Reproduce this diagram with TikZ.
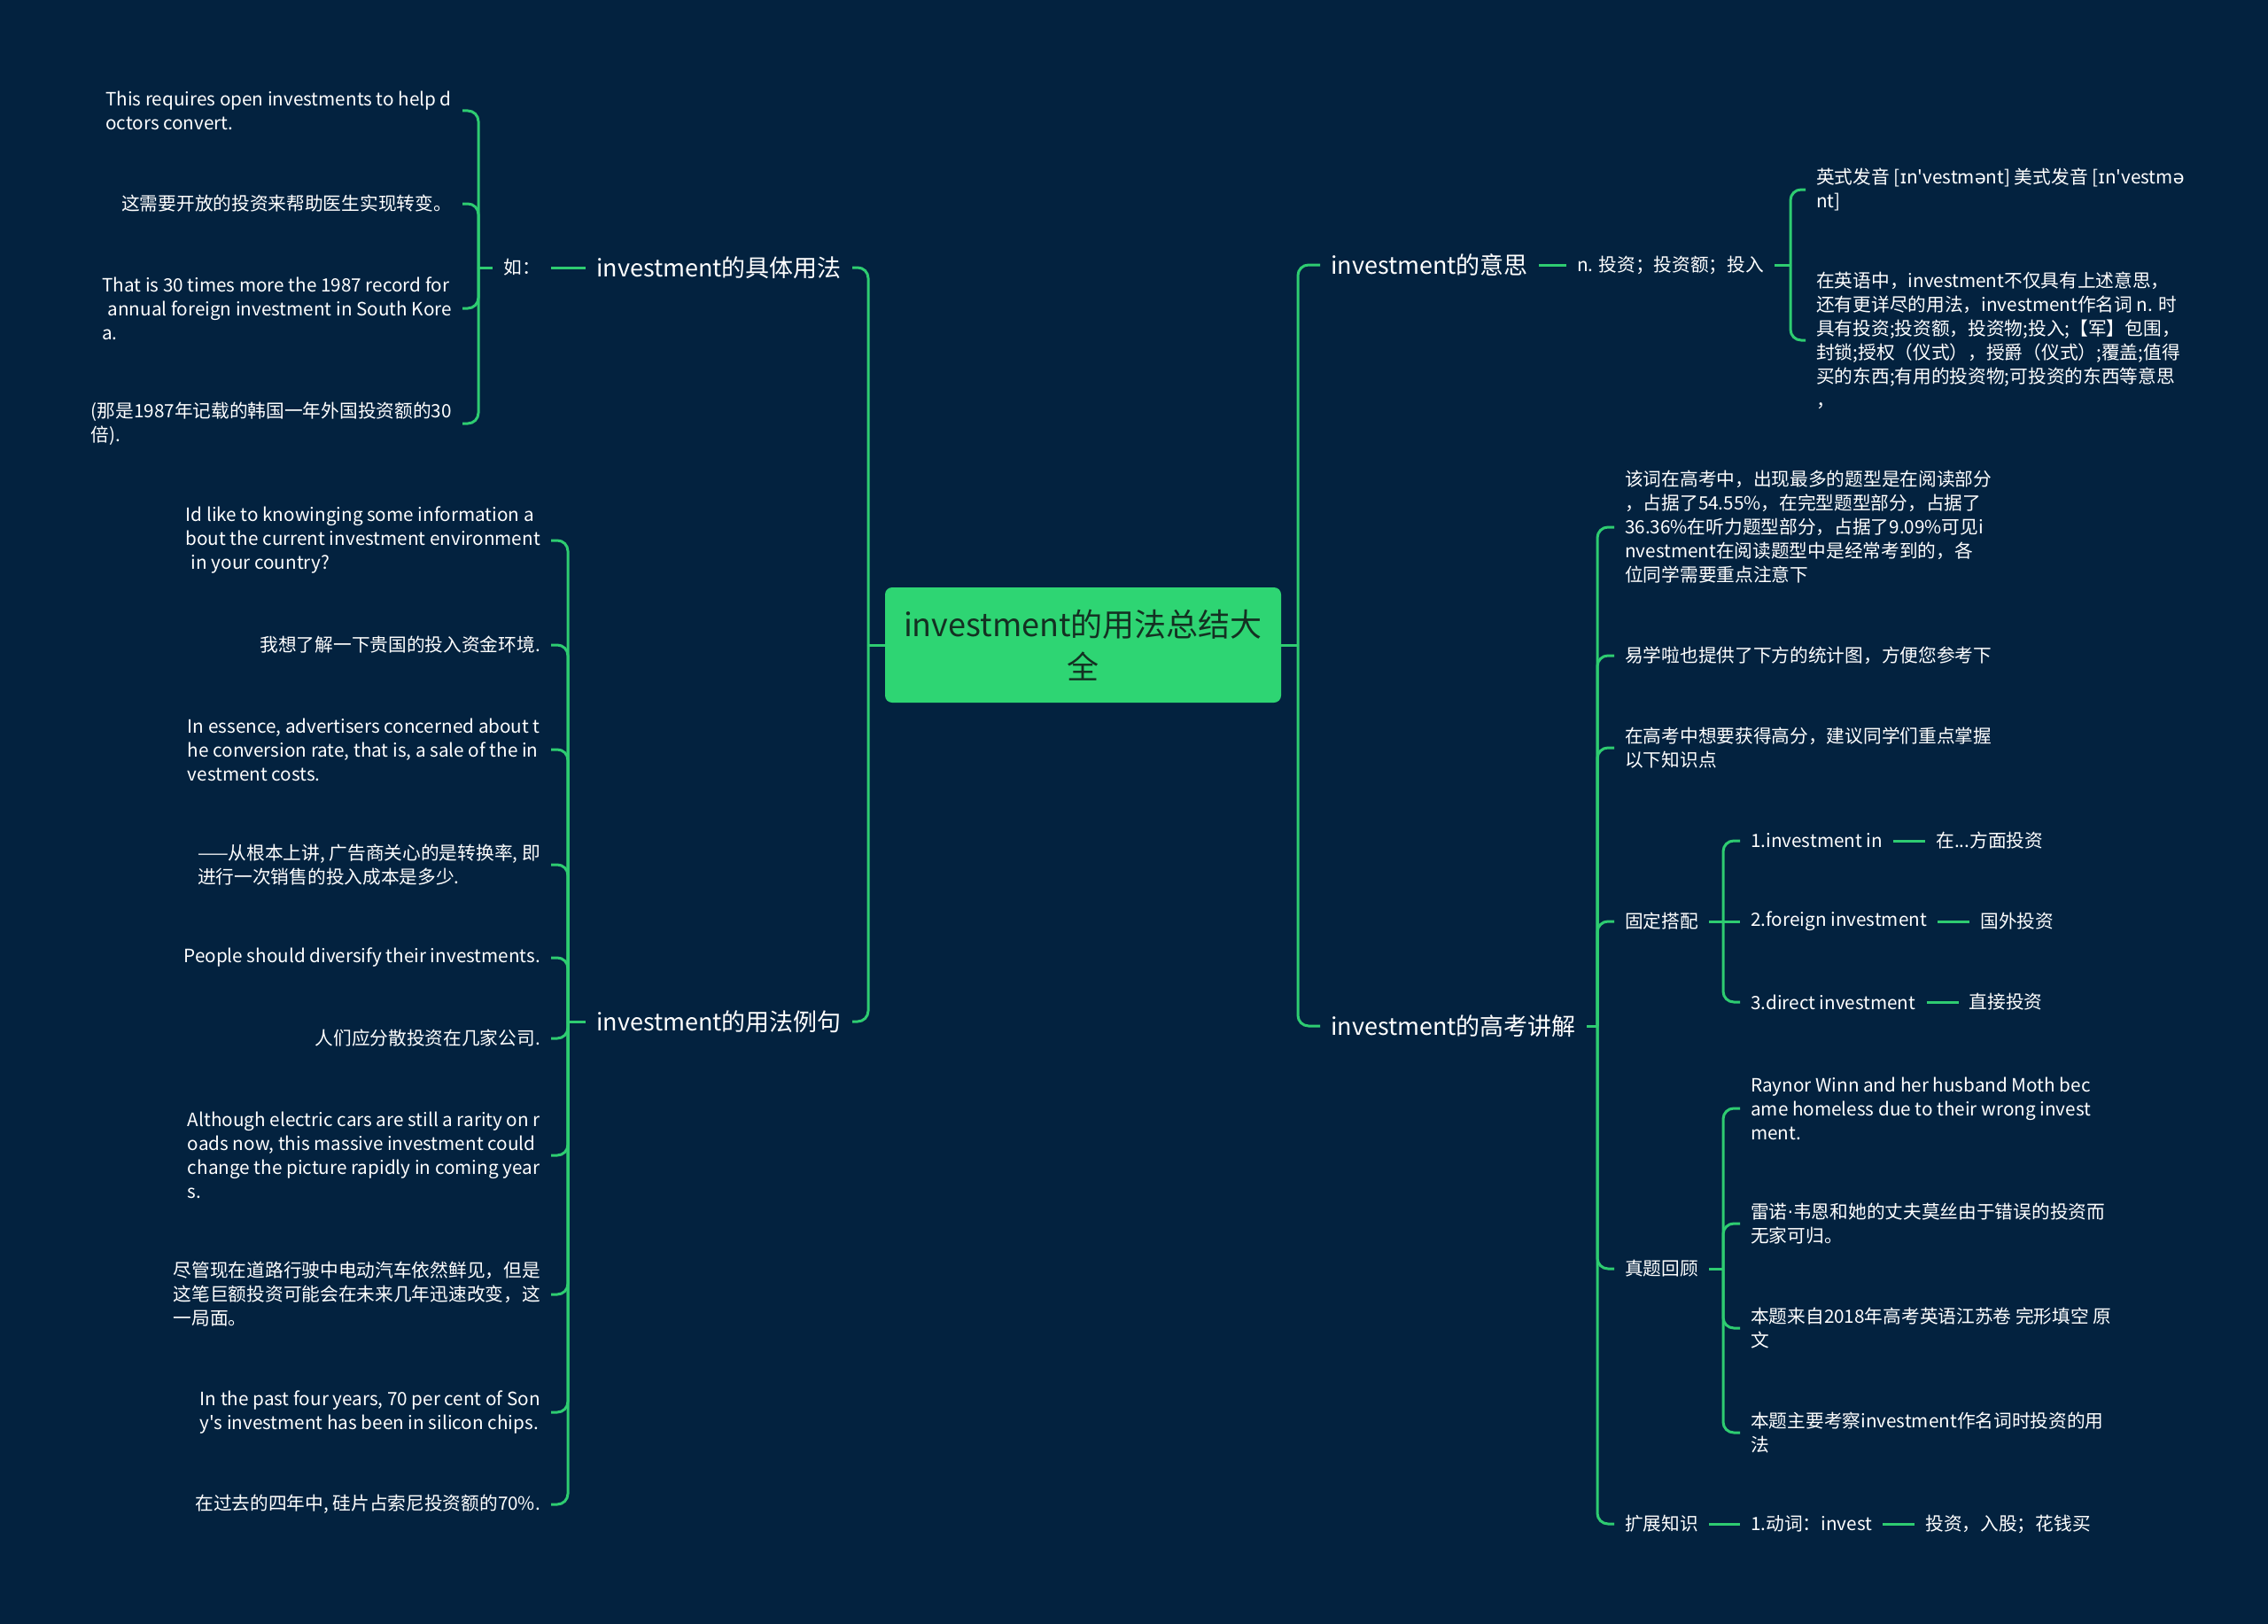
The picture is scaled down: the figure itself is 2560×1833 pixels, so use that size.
\documentclass[tikz,border=0pt]{standalone}
\usepackage{fontspec}
\setmainfont[Ligatures=TeXOff]{Noto Sans CJK SC}
\newfontfamily\ipa{DejaVu Sans}
\definecolor{bg}{RGB}{3,34,63}
\definecolor{ln}{RGB}{46,204,113}
\definecolor{rootfill}{RGB}{46,213,115}
\definecolor{roottext}{RGB}{20,48,34}
\begin{document}
\begin{tikzpicture}[x=1pt,y=-1pt,
 conn/.style={draw=ln, line width=3pt, rounded corners=12pt},
 txt/.style={text=white, inner xsep=12pt, inner ysep=0pt, font=\fontsize{20.7}{27}\selectfont, align=left},
 txtR/.style={txt, anchor=east},
 txtL/.style={txt, anchor=west},
 brl/.style={text=white, inner xsep=12pt, inner ysep=0pt, font=\fontsize{27}{34}\selectfont},
 rootbox/.style={fill=rootfill, text=roottext, rounded corners=8pt, minimum width=447pt, minimum height=130pt, align=center, font=\fontsize{36}{48}\selectfont, inner sep=0pt}
]
\fill[bg] (0,0) rectangle (2560,1833);
\useasboundingbox (0,0) rectangle (2560,1833);

% root
\node[rootbox] (root) at (1222.5,728) {investment的用法总结大\\全};

% left branches
\node[brl, anchor=east] (L1) at (962,302) {investment的具体用法};
\node[txtR] (ru) at (622,302) {如：};
\node[txtR] (c11) at (522,125) {This requires open investments to help d\\octors convert.};
\node[txtR] (c12) at (522,230) {这需要开放的投资来帮助医生实现转变。};
\node[txtR] (c13) at (522,348) {That is 30 times more the 1987 record for\\\hspace*{0.3em}annual foreign investment in South Kore\\a.};
\node[txtR] (c14) at (522,478) {(那是1987年记载的韩国一年外国投资额的30\\倍).};

\node[brl, anchor=east] (L2) at (962,1153) {investment的用法例句};
\node[txtR] (c21) at (622,610) {Id like to knowinging some information a\\bout the current investment environment\\\hspace*{0.3em}in your country?};
\node[txtR] (c22) at (622,728) {我想了解一下贵国的投入资金环境.};
\node[txtR] (c23) at (622,846) {In essence, advertisers concerned about t\\he conversion rate, that is, a sale of the in\\vestment costs.};
\node[txtR] (c24) at (622,976) {——从根本上讲, 广告商关心的是转换率, 即\\进行一次销售的投入成本是多少.};
\node[txtR] (c25) at (622,1081) {People should diversify their investments.};
\node[txtR] (c26) at (622,1172) {人们应分散投资在几家公司.};
\node[txtR] (c27) at (622,1304) {Although electric cars are still a rarity on r\\oads now, this massive investment could\\change the picture rapidly in coming year\\s.};
\node[txtR] (c28) at (622,1461) {尽管现在道路行驶中电动汽车依然鲜见，但是\\这笔巨额投资可能会在未来几年迅速改变，这\\一局面。};
\node[txtR] (c29) at (622,1594) {In the past four years, 70 per cent of Son\\y's investment has been in silicon chips.};
\node[txtR] (c210) at (622,1698) {在过去的四年中, 硅片占索尼投资额的70\%.};

% right branches
\node[brl, anchor=west] (R1) at (1490,299) {investment的意思};
\node[txtL] (nn) at (1768,299) {n. 投资；投资额；投入};
\node[txtL] (r11) at (2038,214) {英式发音 [{\ipa ɪ}n'vestm{\ipa ə}nt] 美式发音 [{\ipa ɪ}n'vestm{\ipa ə}\\nt]};
\node[txtL] (r12) at (2038,384) {在英语中，investment不仅具有上述意思，\\还有更详尽的用法，investment作名词 n. 时\\具有投资;投资额，投资物;投入;【军】包围，\\封锁;授权（仪式），授爵（仪式）;覆盖;值得\\买的东西;有用的投资物;可投资的东西等意思\\，};

\node[brl, anchor=west] (R2) at (1490,1158) {investment的高考讲解};
\node[txtL] (r21) at (1822,595) {该词在高考中，出现最多的题型是在阅读部分\\，占据了54.55\%，在完型题型部分，占据了\\36.36\%在听力题型部分，占据了9.09\%可见i\\nvestment在阅读题型中是经常考到的，各\\位同学需要重点注意下};
\node[txtL] (r22) at (1822,740) {易学啦也提供了下方的统计图，方便您参考下};
\node[txtL] (r23) at (1822,844) {在高考中想要获得高分，建议同学们重点掌握\\以下知识点};
\node[txtL] (r24) at (1822,1040) {固定搭配};
\node[txtL] (r25) at (1822,1432) {真题回顾};
\node[txtL] (r26) at (1822,1720) {扩展知识};

\node[txtL] (fk1) at (1964,949) {1.investment in};
\node[txtL] (fk1b) at ([xshift=36pt]fk1.east) {在...方面投资};
\node[txtL] (fk2) at (1964,1040) {2.foreign investment};
\node[txtL] (fk2b) at ([xshift=36pt]fk2.east) {国外投资};
\node[txtL] (fk3) at (1964,1131) {3.direct investment};
\node[txtL] (fk3b) at ([xshift=36pt]fk3.east) {直接投资};

\node[txtL] (zk1) at (1964,1251) {Raynor Winn and her husband Moth bec\\ame homeless due to their wrong invest\\ment.};
\node[txtL] (zk2) at (1964,1381) {雷诺{\ipa ·}韦恩和她的丈夫莫丝由于错误的投资而\\无家可归。};
\node[txtL] (zk3) at (1964,1499) {本题来自2018年高考英语江苏卷 完形填空 原\\文};
\node[txtL] (zk4) at (1964,1617) {本题主要考察investment作名词时投资的用\\法};

\node[txtL] (kz1) at (1964,1720) {1.动词：invest};
\node[txtL] (kz2) at ([xshift=36pt]kz1.east) {投资，入股；花钱买};

% connectors left
\coordinate (lj) at (980,728);
\draw[conn] (root.west) -- (lj);
\draw[conn] (lj) |- (L1.east);
\draw[conn] (lj) |- (L2.east);
\draw[conn] (L1.west) -- (ru.east);
\coordinate (bj1) at (540,302);
\draw[conn] (ru.west) -- (bj1);
\foreach \c in {c11,c12,c13,c14} \draw[conn] (bj1) |- (\c.east);
\coordinate (bj2) at (641,1153);
\draw[conn] (L2.west) -- (bj2);
\foreach \c in {c21,c22,c23,c24,c25,c26,c27,c28,c29,c210} \draw[conn] (bj2) |- (\c.east);

% connectors right
\coordinate (rj) at (1465,728);
\draw[conn] (root.east) -- (rj);
\draw[conn] (rj) |- (R1.west);
\draw[conn] (rj) |- (R2.west);
\draw[conn] (R1.east) -- (nn.west);
\coordinate (bj3) at (2021,299);
\draw[conn] (nn.east) -- (bj3);
\draw[conn] (bj3) |- (r11.west);
\draw[conn] (bj3) |- (r12.west);
\coordinate (bj4) at (1803,1158);
\draw[conn] (R2.east) -- (bj4);
\foreach \c in {r21,r22,r23,r24,r25,r26} \draw[conn] (bj4) |- (\c.west);
\coordinate (bj5) at (1945,1040);
\draw[conn] (r24.east) -- (bj5);
\draw[conn] (bj5) |- (fk1.west);
\draw[conn] (bj5) -- (fk2.west);
\draw[conn] (bj5) |- (fk3.west);
\draw[conn] (fk1.east) -- (fk1b.west);
\draw[conn] (fk2.east) -- (fk2b.west);
\draw[conn] (fk3.east) -- (fk3b.west);
\coordinate (bj6) at (1945,1432);
\draw[conn] (r25.east) -- (bj6);
\foreach \c in {zk1,zk2,zk3,zk4} \draw[conn] (bj6) |- (\c.west);
\draw[conn] (r26.east) -- (kz1.west);
\draw[conn] (kz1.east) -- (kz2.west);
\end{tikzpicture}
\end{document}
